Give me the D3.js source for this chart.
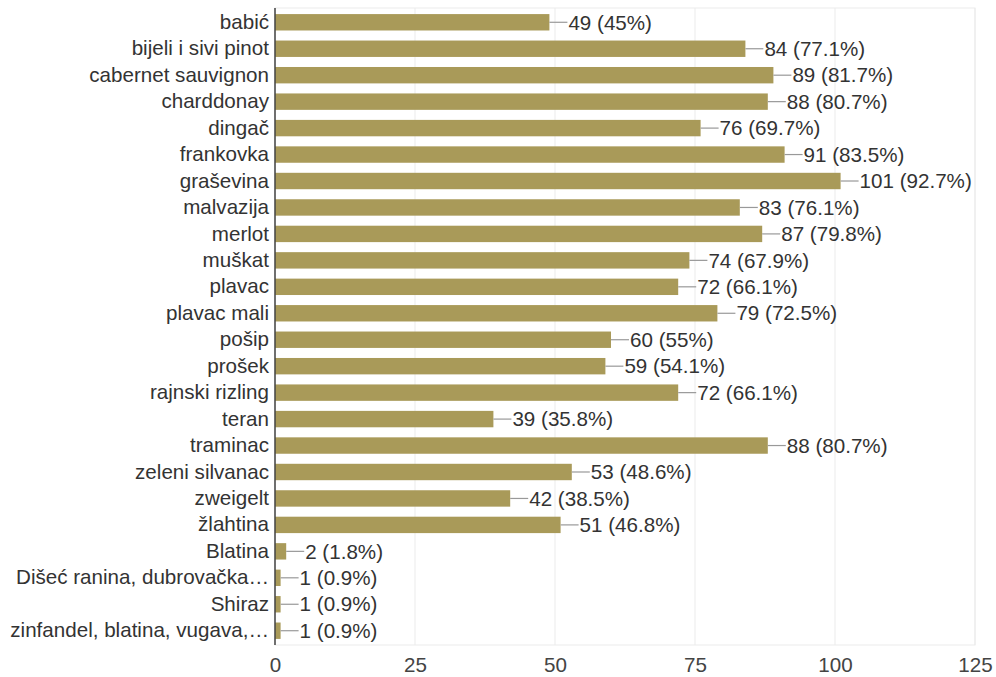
<!DOCTYPE html>
<html>
<head>
<meta charset="utf-8">
<script src="https://cdn.jsdelivr.net/npm/d3@7"></script>
<style>
  html, body { margin: 0; padding: 0; background: #fff; }
  svg text { font-family: "Liberation Sans", Arial, sans-serif; }
</style>
</head>
<body>
<div id="chart"></div>
<script>
// categories and answer counts (total respondents = 109)
var categories = ["babić", "bijeli i sivi pinot", "cabernet sauvignon", "charddonay", "dingač",
  "frankovka", "graševina", "malvazija", "merlot", "muškat", "plavac", "plavac mali", "pošip",
  "prošek", "rajnski rizling", "teran", "traminac", "zeleni silvanac", "zweigelt", "žlahtina",
  "Blatina", "Dišeć ranina, dubrovačka…", "Shiraz", "zinfandel, blatina, vugava,…"];
var counts = [49, 84, 89, 88, 76, 91, 101, 83, 87, 74, 72, 79, 60, 59, 72, 39, 88, 53, 42, 51, 2, 1, 1, 1];
var totalAnswers = 109;
var xTicks = [0, 25, 50, 75, 100, 125];

var width = 996, height = 677;
var margin = { top: 8, right: 21, bottom: 32, left: 275 };
var innerW = width - margin.left - margin.right,
  innerH = height - margin.top - margin.bottom;
var fontSize = 20.6;

var data = categories.map(function(c, i) {
  return { name: c, value: counts[i] };
});

var x = d3.scaleLinear().domain([0, 125]).range([0, innerW]);
var y = d3.scaleBand().domain(categories).range([0, innerH]).paddingInner(0.38).paddingOuter(0.23);
var pct = d3.format(".1~f");

var svg = d3.select("#chart").append("svg")
  .attr("width", width)
  .attr("height", height);

var g = svg.append("g")
  .attr("transform", "translate(" + margin.left + "," + margin.top + ")");

// frame + gridlines
g.append("rect")
  .attr("x", 0).attr("y", 0)
  .attr("width", innerW).attr("height", innerH)
  .attr("fill", "none")
  .attr("stroke", "#ebebeb");

g.selectAll(".grid")
  .data(xTicks)
  .enter().append("line")
  .attr("class", "grid")
  .attr("x1", function(d) { return x(d); })
  .attr("x2", function(d) { return x(d); })
  .attr("y1", 0).attr("y2", innerH)
  .attr("stroke", "#ebebeb");

// bars
g.selectAll(".bar")
  .data(data)
  .enter().append("rect")
  .attr("class", "bar")
  .attr("x", 0)
  .attr("y", function(d) { return y(d.name); })
  .attr("width", function(d) { return x(d.value); })
  .attr("height", y.bandwidth())
  .attr("fill", "#a99a59");

// leader lines + value labels
var lab = g.selectAll(".lab")
  .data(data)
  .enter().append("g")
  .attr("class", "lab")
  .attr("transform", function(d) {
    return "translate(" + x(d.value) + "," + (y(d.name) + y.bandwidth() / 2) + ")";
  });

lab.append("line")
  .attr("x1", 0).attr("x2", 18)
  .attr("y1", 0).attr("y2", 0)
  .attr("stroke", "#999")
  .attr("stroke-width", 1.2);

lab.append("text")
  .attr("x", 19)
  .attr("dy", "0.35em")
  .attr("font-size", fontSize)
  .attr("fill", "#333")
  .text(function(d) { return d.value + " (" + pct(d.value / totalAnswers * 100) + "%)"; });

// y axis: category names
var yAxis = d3.axisLeft(y).tickSize(0).tickPadding(6);
var yg = g.append("g").call(yAxis);
yg.select(".domain").attr("stroke", "#444").attr("stroke-width", 1.5).attr("d", "M0,0V" + innerH);
yg.selectAll("text").attr("font-size", fontSize).attr("fill", "#333");

// x axis: tick labels only
var xAxis = d3.axisBottom(x).tickValues(xTicks).tickSize(0).tickPadding(12);
var xg = g.append("g")
  .attr("transform", "translate(0," + innerH + ")")
  .call(xAxis);
xg.select(".domain").remove();
xg.selectAll("text").attr("font-size", fontSize).attr("fill", "#444");
</script>
</body>
</html>
